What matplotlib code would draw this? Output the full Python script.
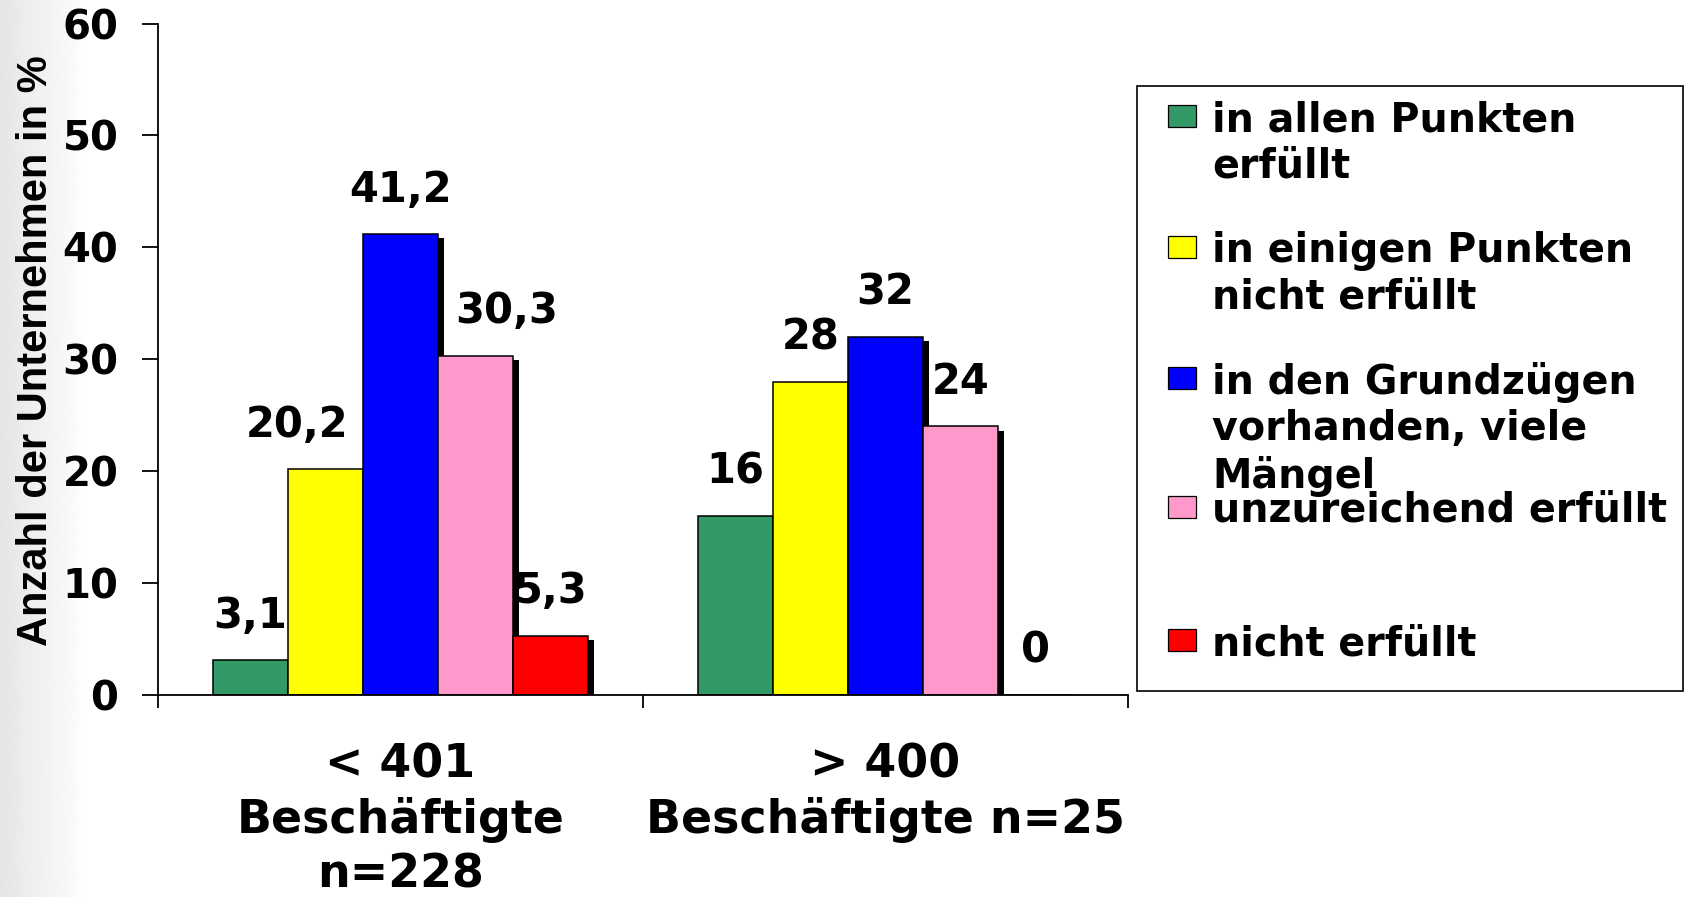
import numpy as np
import matplotlib
matplotlib.use("Agg")
import matplotlib.pyplot as plt
from matplotlib.patches import Rectangle
import matplotlib.patheffects as pe

# ---------------- data ----------------
categories = ["< 401\nBeschäftigte\nn=228", "> 400\nBeschäftigte n=25"]
series_names = [
    "in allen Punkten\nerfüllt",
    "in einigen Punkten\nnicht erfüllt",
    "in den Grundzügen\nvorhanden, viele\nMängel",
    "unzureichend erfüllt",
    "nicht erfüllt",
]
series_colors = ["#339966", "#FFFF00", "#0000FF", "#FF99CC", "#FF0000"]
vals_allen = [3.1, 16]
vals_einigen = [20.2, 28]
vals_grund = [41.2, 32]
vals_unzur = [30.3, 24]
vals_nicht = [5.3, 0]
series_values = [vals_allen, vals_einigen, vals_grund, vals_unzur, vals_nicht]
yticks = [0, 10, 20, 30, 40, 50, 60]
ylabel = "Anzahl der Unternehmen in %"

# label horizontal nudges (points) per series / category (style only)
label_dx = [[0, 0], [-20, 0], [0, 0], [22, 0], [0, 0]]

W, H = 1685, 897
fig = plt.figure(figsize=(W / 100, H / 100), dpi=100)
fig.patch.set_facecolor("white")

# light grey gradient at the left edge (background decoration)
bg = fig.add_axes([0, 0, 1, 1], zorder=-10)
bg.axis("off")
xs = np.arange(W)
grad = np.clip(0.90 + 0.10 * xs / 90.0, 0, 1)
bg.imshow(np.tile(grad, (10, 1)), cmap="gray", vmin=0, vmax=1, aspect="auto",
          extent=[0, 1, 0, 1], interpolation="bilinear")
bg.set_xlim(0, 1)
bg.set_ylim(0, 1)

ax = fig.add_axes([158 / W, 1 - 695 / H, (1128 - 158) / W, (695 - 23.6) / H])
ax.patch.set_alpha(0)

x = np.arange(len(categories))
w = 0.155
n = len(series_values)
shadow = [pe.SimplePatchShadow(offset=(4.3, -3.0), shadow_rgbFace="black", alpha=1.0),
          pe.Normal()]
for i, (vals, col) in enumerate(zip(series_values, series_colors)):
    pos = x + (i - (n - 1) / 2) * w
    ax.bar(pos, vals, w, color=col, edgecolor="black", linewidth=1.1,
           path_effects=shadow, zorder=2)
    for j, (p, v) in enumerate(zip(pos, vals)):
        txt = f"{v:g}".replace(".", ",")
        ax.annotate(txt, xy=(p, v), xytext=(label_dx[i][j], 32),
                    textcoords="offset points", ha="center", va="center",
                    family="DejaVu Sans", weight="bold", size=30,
                    zorder=5, annotation_clip=False)

ax.set_xlim(-0.5, 1.5)
ax.set_ylim(0, 60)
ax.set_yticks(yticks)
ax.set_yticklabels([str(t) for t in yticks], family="DejaVu Sans",
                   weight="bold", size=29)
ax.tick_params(axis="y", direction="out", length=11.5, width=1.3, pad=17)

ax.set_xticks(x)
ax.set_xticklabels(categories, family="DejaVu Sans", weight="bold", size=33,
                   linespacing=1.27)
ax.tick_params(axis="x", which="major", length=0, pad=34)
ax.set_xticks([-0.5, 0.5, 1.5], minor=True)
ax.tick_params(axis="x", which="minor", direction="out", length=9.4, width=1.3)

for s in ["top", "right"]:
    ax.spines[s].set_visible(False)
for s in ["left", "bottom"]:
    ax.spines[s].set_linewidth(1.3)
    ax.spines[s].set_zorder(3)

ax.set_ylabel(ylabel, family="Liberation Sans", weight="bold", size=30)
ax.yaxis.set_label_coords(-0.105, 0.513)

# ---------------- legend (drawn as a box with swatches) ----------------
def fx(px):
    return px / W

def fy(py):
    return 1 - py / H

fig.patches.append(Rectangle((fx(1137), fy(691)), fx(1683) - fx(1137), fy(86) - fy(691),
                             transform=fig.transFigure, fill=False,
                             edgecolor="black", linewidth=1.2, zorder=4))
centers = [116, 247, 378, 507, 640]
for name, col, c in zip(series_names, series_colors, centers):
    fig.patches.append(Rectangle((fx(1168), fy(c + 10.75)), 28 / W, 21.5 / H,
                                 transform=fig.transFigure, facecolor=col,
                                 edgecolor="black", linewidth=0.9, zorder=5))
    fig.text(fx(1212), fy(c - 16), name, ha="left", va="top",
             family="DejaVu Sans", weight="bold", size=28.5, linespacing=1.2,
             zorder=6)

fig.savefig("out.png", dpi=100)
